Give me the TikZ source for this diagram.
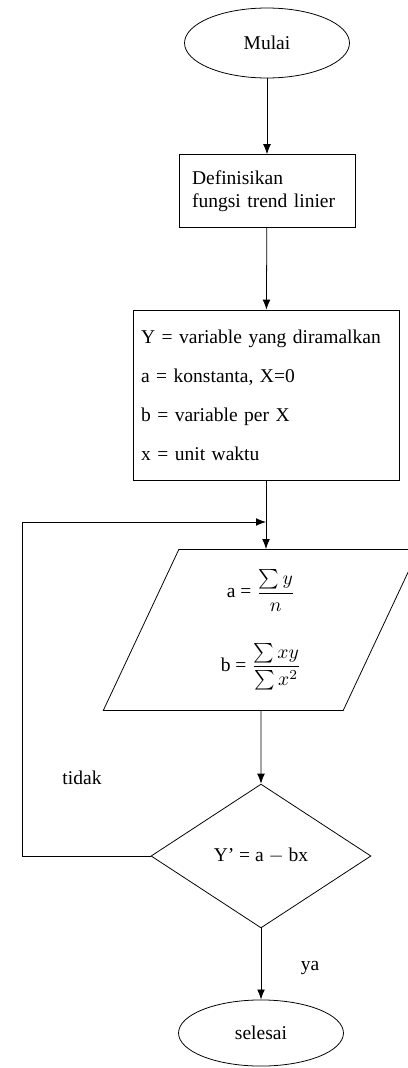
\documentclass[tikz,border=0pt]{standalone}
\usepackage{fontspec}
\setmainfont{Liberation Serif}
\usetikzlibrary{arrows.meta, shapes.geometric}

\begin{document}
\begin{tikzpicture}[x=0.018cm, y=-0.018cm, every node/.style={font=\normalsize},
  terminal/.style={draw, ellipse, minimum width=2.97cm, minimum height=1.26cm, inner sep=0pt},
  procbox/.style={draw, rectangle, align=left},
  iobox/.style={draw, trapezium, trapezium left angle=68, trapezium right angle=112,
    trapezium stretches=true, minimum width=5.69cm, minimum height=2.9cm},
  decide/.style={draw, diamond, minimum width=3.96cm, minimum height=2.59cm, inner sep=0pt},
  flow/.style={-{Latex[length=1.8mm, width=1.4mm]}}]

\useasboundingbox (0,0) rectangle (407,1068);

% start
\node[terminal] (mulai) at (267,43) {Mulai};

% define the trend function
\node[procbox, minimum width=3.17cm, minimum height=1.31cm, text width=2.7cm]
  (defn) at (267,191) {Definisikan\\fungsi trend linier};

% the variables
\node[procbox, minimum width=4.79cm, minimum height=3.06cm, text width=4.5cm]
  (vars) at (266,395) {Y = variable yang diramalkan\\[8pt]
    a = konstanta, X=0\\[8pt]
    b = variable per X\\[8pt]
    x = unit waktu};

% compute a and b
\node[iobox] (hitung) at (261,630) {%
  \begin{tabular}{c}
  a = $\displaystyle\frac{\sum y}{n}$\\[20pt]
  b = $\displaystyle\frac{\sum xy}{\sum x^{2}}$
  \end{tabular}};

% trend equation
\node[decide] (cek) at (261,856) {Y' = a $-$ bx};

% end
\node[terminal, minimum height=1.19cm] (selesai) at (261,1033) {selesai};

% branch labels
\node (tidak) at (82,778) {tidak};
\node (ya) at (310,968) {ya};

% connectors
\draw[flow] (mulai) -- (defn);
\draw[flow] (defn) -- (vars);
\coordinate (gabung) at (vars.south |- 0,522);
\coordinate (kiri) at (22,522);
\draw[flow] (vars.south) -- (vars.south |- hitung.north);
\draw[flow] (hitung.south) -- (cek.north);
\draw[flow] (cek.south) -- (selesai);
\draw[flow] (cek.west) -| (kiri) -- (gabung);

\end{tikzpicture}
\end{document}
